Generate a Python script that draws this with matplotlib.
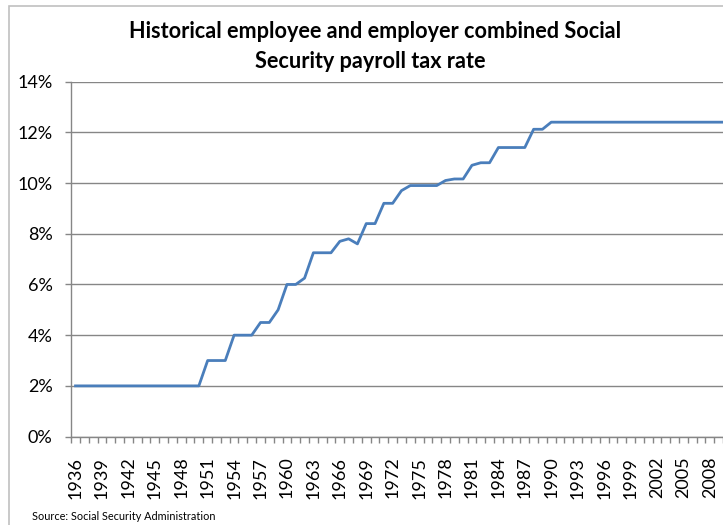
import matplotlib
matplotlib.use("Agg")
import matplotlib.pyplot as plt
from matplotlib.patches import Rectangle
from matplotlib.ticker import FixedLocator, FuncFormatter

# combined payroll tax rate (%), one value per year 1936..2010
years = list(range(1936, 2011))
rates = [2.0, 2.0, 2.0, 2.0, 2.0, 2.0, 2.0, 2.0, 2.0, 2.0,      # 1936-1945
         2.0, 2.0, 2.0, 2.0, 2.0, 3.0, 3.0, 3.0, 4.0, 4.0,      # 1946-1955
         4.0, 4.5, 4.5, 5.0, 6.0, 6.0, 6.25, 7.25, 7.25, 7.25,  # 1956-1965
         7.7, 7.8, 7.6, 8.4, 8.4, 9.2, 9.2, 9.7, 9.9, 9.9,      # 1966-1975
         9.9, 9.9, 10.1, 10.16, 10.16, 10.7, 10.8, 10.8, 11.4, 11.4,  # 1976-1985
         11.4, 11.4, 12.12, 12.12, 12.4, 12.4, 12.4, 12.4, 12.4, 12.4,  # 1986-1995
         12.4, 12.4, 12.4, 12.4, 12.4, 12.4, 12.4, 12.4, 12.4, 12.4,  # 1996-2005
         12.4, 12.4, 12.4, 12.4, 12.4]                          # 2006-2010
label_years = list(range(1936, 2009, 3))
y_ticks = [0, 2, 4, 6, 8, 10, 12, 14]

title1 = "Historical employee and employer combined Social"
title2 = "Security payroll tax rate"
source = "Source: Social Security Administration"

plt.rcParams['font.family'] = ['Lato', 'DejaVu Sans']

W, H = 723, 525
fig = plt.figure(figsize=(W / 100, H / 100), dpi=100)
fig.patch.set_facecolor('white')

# chart frame (cut by the picture on right and bottom)
fig.add_artist(Rectangle((9 / W, -0.1), 1.2, (H - 6) / H + 0.1,
                         transform=fig.transFigure, fill=False,
                         edgecolor='#C0C0C0', lw=1.2))

ax = fig.add_axes([71.1 / W, (H - 436.6) / H, 75 * 8.81 / W, 355 / H])
ax.plot(years, rates, color='#4A7EBB', lw=2.0, solid_joinstyle='round')

ax.set_xlim(years[0] - 0.5, years[-1] + 0.5)
ax.set_ylim(0, 14)

grey = '#868686'
ax.set_yticks(y_ticks)
ax.yaxis.set_major_formatter(FuncFormatter(lambda v, p: '%d%%' % v))
ax.yaxis.grid(True, color=grey, lw=1.0)
ax.set_axisbelow(True)

ax.set_xticks(label_years)
ax.set_xticklabels([str(y) for y in label_years], rotation=90)
ax.xaxis.set_minor_locator(FixedLocator([y - 0.5 for y in years] + [years[-1] + 0.5]))
ax.tick_params(axis='x', which='major', length=0, pad=14.5, labelsize=13)
ax.tick_params(axis='x', which='minor', length=4.3, width=1, color=grey, direction='out')
ax.tick_params(axis='y', length=4.3, width=1, color=grey, pad=9, labelsize=13)

for s in ['top', 'right']:
  ax.spines[s].set_visible(False)
for s in ['left', 'bottom']:
  ax.spines[s].set_color(grey)
  ax.spines[s].set_linewidth(1)

fig.text(375 / W, 1 - 31 / H, title1, ha='center', va='center',
         fontsize=15.6, fontweight='bold')
fig.text(370 / W, 1 - 61 / H, title2, ha='center', va='center',
         fontsize=15.6, fontweight='bold')
fig.text(32 / W, 1 - 517 / H, source, ha='left', va='center', fontsize=7.8)

fig.savefig('out.png', dpi=100)
